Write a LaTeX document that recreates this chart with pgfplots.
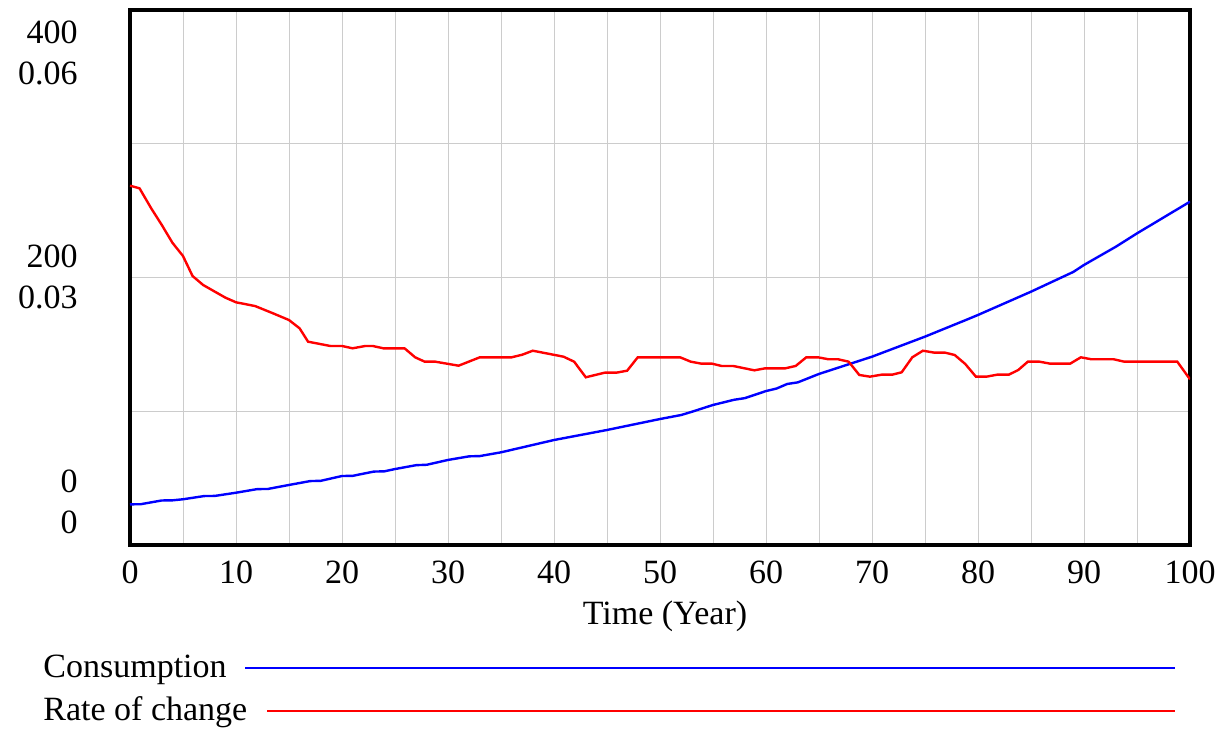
\documentclass[border=0pt]{standalone}
\usepackage{pgfplots}
\pgfplotsset{compat=1.18}
\usepackage{fontspec}
\setmainfont{Liberation Serif}
\begin{document}
\fontsize{17}{20}\selectfont
\begin{tikzpicture}
\useasboundingbox (-65pt,-92.5pt) rectangle (545pt,272.5pt);
\begin{axis}[at={(0,0)},anchor=south west,scale only axis,width=530pt,height=267.5pt,
  xmin=0,xmax=100,ymin=0,ymax=400,
  xtick={0,10,...,100}, minor xtick={5,15,...,95},
  ytick={0,100,200,300,400}, yticklabels={},
  grid=both, major grid style={draw=gray!40,line width=0.5pt}, minor grid style={draw=gray!40,line width=0.5pt},
  tick style={draw=none}, axis line style={line width=2pt},
  /pgf/number format/assume math mode=true,
  xticklabel style={font=\fontsize{17}{20}\selectfont, yshift=-2pt},
]
\addplot[blue,line width=1.2pt] coordinates {
(0,30.4) (1,30.5) (3,33.3) (4,33.4) (5,34.2) (7,36.6) (8,36.7) (10,39.1) (12,41.8) (13,41.9)
(15,44.9) (17,47.8) (18,48.0) (20,51.6) (21,51.7) (23,54.9) (24,55.1) (25,56.8) (27,59.7) (28,60.0)
(30,63.6) (32,66.3) (33,66.5) (35,69.3) (40,78.5) (45,86) (50,94.2) (52,97.2) (53,99.6) (55,104.7)
(57,108.6) (58,109.8) (60,115.1) (61,117.0) (62,120.4) (63,121.6) (65,127.9) (70,140.8)
(75,155.8) (79,168.7) (80,172) (85,189.4) (89,204.2) (90,209.4) (93,223) (94,228) (95,233) (100,256.7)};
\end{axis}
\begin{axis}[at={(0,0)},anchor=south west,scale only axis,width=530pt,height=267.5pt,
  xmin=0,xmax=100,ymin=0,ymax=0.06, axis lines=none, ticks=none]
\addplot[red,line width=1.2pt] coordinates {
(0,0.0403) (0.9,0.0400) (2,0.03776) (3,0.03589) (4,0.0339) (5,0.03241) (5.9,0.03017)
(6.9,0.02916) (9,0.02774) (10,0.02722) (11.8,0.0268) (13.5,0.02598) (15,0.02523)
(16,0.0243) (16.8,0.0228) (18.9,0.02232) (20,0.02232) (21,0.02206) (22.2,0.02232)
(22.9,0.02232) (23.9,0.02206) (25.9,0.02206) (26.9,0.02105) (27.8,0.02056) (28.8,0.02056)
(31,0.02011) (33,0.02105) (36,0.02105) (37,0.02134) (38,0.02179) (39.6,0.02142)
(40.9,0.02112) (41.9,0.02056) (43,0.01881) (44.8,0.01933) (45.9,0.01933) (46.9,0.01955)
(47.9,0.02105) (51.9,0.02105) (52.9,0.02056) (53.9,0.02034) (54.9,0.02034) (55.8,0.02008)
(56.9,0.02008) (58.9,0.01959) (59.9,0.01981) (61.8,0.01981) (62.8,0.02008) (63.8,0.02105)
(64.9,0.02105) (65.9,0.02083) (66.8,0.02083) (67.8,0.02056) (68.8,0.01907) (69.8,0.01888)
(70.9,0.0191) (71.9,0.0191) (72.8,0.01937) (73.8,0.02105) (74.8,0.02179) (75.9,0.02157)
(76.9,0.02157) (77.8,0.02131) (78.8,0.0203) (79.8,0.01888) (80.8,0.01888) (81.8,0.0191)
(82.9,0.0191) (83.8,0.01963) (84.7,0.02056) (85.8,0.02056) (86.8,0.02034) (88.7,0.02034)
(89.7,0.02105) (90.7,0.02083) (92.8,0.02083) (93.8,0.02056) (98.8,0.02056) (100,0.01858)};
\end{axis}
\begin{scope}[every node/.style={anchor=east,inner sep=0pt}]
\node at (-26pt,256.5pt) {400};
\node at (-26pt,236pt) {0.06};
\node at (-26pt,144.5pt) {200};
\node at (-26pt,124pt) {0.03};
\node at (-26pt,32pt) {0};
\node at (-26pt,11.5pt) {0};
\end{scope}
\node at (267.5pt,-35.5pt) {Time (Year)};
\node[anchor=west,inner sep=0pt] at (-43.5pt,-62.5pt) {Consumption};
\draw[blue,line width=1.2pt] (57.5pt,-61.5pt) -- (522.5pt,-61.5pt);
\node[anchor=west,inner sep=0pt] at (-43.5pt,-83.5pt) {Rate of change};
\draw[red,line width=1.2pt] (68.5pt,-83pt) -- (522.5pt,-83pt);
\end{tikzpicture}
\end{document}
